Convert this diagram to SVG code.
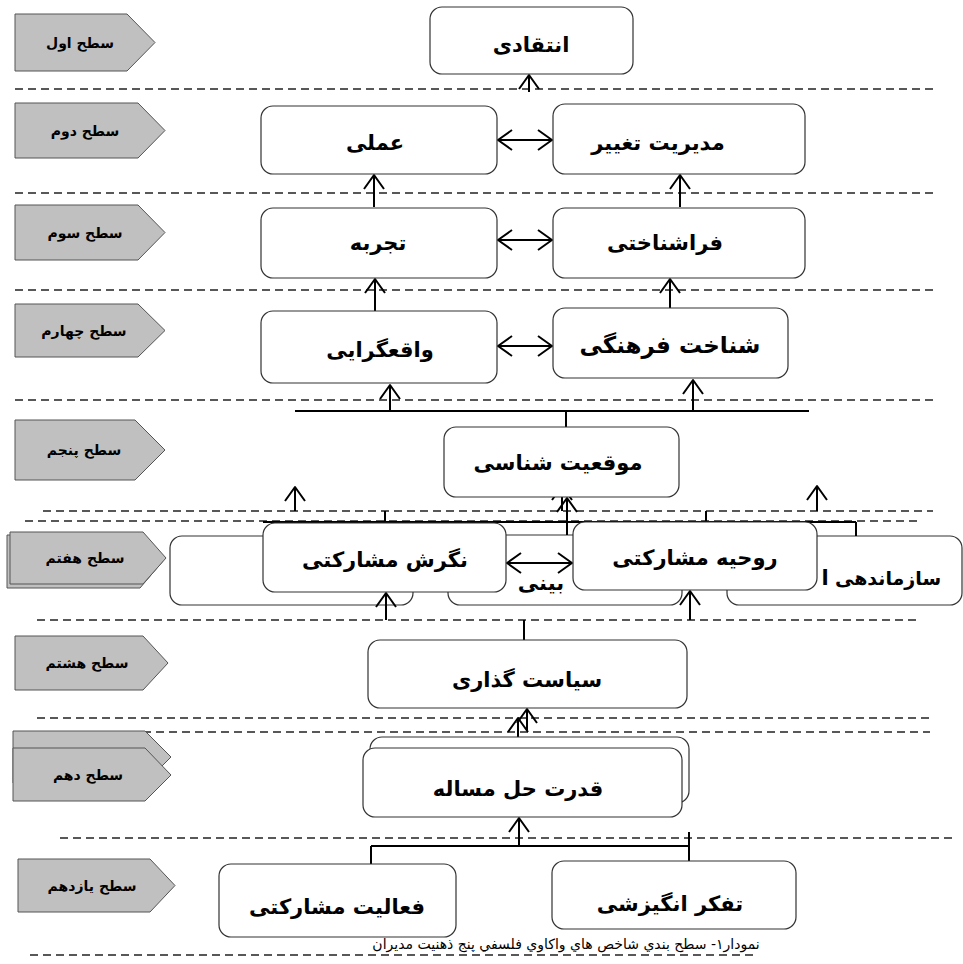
<svg xmlns="http://www.w3.org/2000/svg" width="963" height="964" viewBox="0 0 963 964">
<style>
.dash{stroke:#222;stroke-width:1.3;stroke-dasharray:8 5;fill:none}
.lvl{fill:#c0c0c0;stroke:#555;stroke-width:1}
.lt{font-family:"DejaVu Sans",sans-serif;font-weight:bold;font-size:14px;fill:#000;text-anchor:middle;direction:rtl}
.box{fill:#fff;stroke:#333;stroke-width:1.2}
.nt{font-family:"DejaVu Sans",sans-serif;font-weight:bold;font-size:21px;fill:#000;text-anchor:middle;direction:rtl}
.ln{stroke:#000;stroke-width:2;fill:none}
.cap{font-family:"DejaVu Sans",sans-serif;font-size:14px;fill:#000;text-anchor:middle;direction:rtl}
</style>
<defs>
<marker id="ah" markerUnits="userSpaceOnUse" viewBox="-16 -12 18 24" refX="0" refY="0" markerWidth="18" markerHeight="24" orient="auto-start-reverse" overflow="visible">
<path d="M-14,-10 L0,0 L-14,10" fill="none" stroke="#000" stroke-width="2" stroke-linejoin="round"/>
</marker>
</defs>
<rect width="963" height="964" fill="#fff"/>
<g id="separators">
<line class="dash" x1="15" y1="89" x2="935" y2="89"/>
<line class="dash" x1="15" y1="193" x2="935" y2="193"/>
<line class="dash" x1="15" y1="290" x2="935" y2="290"/>
<line class="dash" x1="15" y1="400" x2="935" y2="400"/>
<line class="dash" x1="43" y1="511" x2="933" y2="511"/>
<line class="dash" x1="25" y1="521" x2="917" y2="521"/>
<line class="dash" x1="37" y1="620" x2="920" y2="620"/>
<line class="dash" x1="37" y1="718" x2="930" y2="718"/>
<line class="dash" x1="39" y1="732" x2="930" y2="732"/>
<line class="dash" x1="60" y1="838" x2="953" y2="838"/>
<line class="dash" x1="30" y1="955" x2="757" y2="955"/>
</g>
<g id="levels">
<g id="level1"><path class="lvl" d="M15,14 H127 L155,42.5 L127,71 H15 Z"/><text class="lt" x="80" y="48">سطح اول</text></g>
<g id="level2"><path class="lvl" d="M15,103 H138 L165,130.5 L138,158 H15 Z"/><text class="lt" x="85" y="136">سطح دوم</text></g>
<g id="level3"><path class="lvl" d="M15,205 H138 L165,232.5 L138,260 H15 Z"/><text class="lt" x="85" y="238">سطح سوم</text></g>
<g id="level4"><path class="lvl" d="M15,304 H138 L165,330.5 L138,357 H15 Z"/><text class="lt" x="84" y="336">سطح چهارم</text></g>
<g id="level5"><path class="lvl" d="M15,420 H135 L165,450 L135,480 H15 Z"/><text class="lt" x="84" y="455">سطح پنجم</text></g>
<g id="level7"><path class="lvl" d="M7,535 H140 L163,561 L140,588 H7 Z"/><path class="lvl" d="M10,532 H143 L166,558 L143,584 H10 Z"/><text class="lt" x="85" y="563">سطح هفتم</text></g>
<g id="level8"><path class="lvl" d="M15,636 H143 L168,663 L143,690 H15 Z"/><text class="lt" x="87" y="668">سطح هشتم</text></g>
<g id="level10"><path class="lvl" d="M13,731 H145 L171,757 L145,783 H13 Z"/><path class="lvl" d="M13,748 H145 L171,775 L145,801 H13 Z"/><text class="lt" x="88" y="780">سطح دهم</text></g>
<g id="level11"><path class="lvl" d="M18,859 H150 L175,885.5 L150,912 H18 Z"/><text class="lt" x="92" y="891">سطح یازدهم</text></g>
</g>
<g id="row6">
<g id="n6a"><rect class="box" x="170" y="536" width="243" height="69" rx="12"/></g>
<g id="n6b"><rect class="box" x="448" y="535" width="234" height="70" rx="12"/><text class="nt" x="541" y="590">بینی</text></g>
<g id="n6c"><rect class="box" x="727" y="536" width="235" height="69" rx="12"/><text class="nt" x="888" y="585" style="font-size:19px">سازماندهی</text><text class="nt" x="825" y="585">ا</text></g>
</g>
<g id="connectors">
<line class="ln" x1="529" y1="92" x2="529" y2="75" marker-end="url(#ah)"/>
<line class="ln" x1="374" y1="207" x2="374" y2="175" marker-end="url(#ah)"/>
<line class="ln" x1="680" y1="207" x2="680" y2="175" marker-end="url(#ah)"/>
<line class="ln" x1="375" y1="311" x2="375" y2="279" marker-end="url(#ah)"/>
<line class="ln" x1="670" y1="308" x2="670" y2="279" marker-end="url(#ah)"/>
<line class="ln" x1="498" y1="140" x2="552" y2="140" marker-start="url(#ah)" marker-end="url(#ah)"/>
<line class="ln" x1="498" y1="240" x2="552" y2="240" marker-start="url(#ah)" marker-end="url(#ah)"/>
<line class="ln" x1="498" y1="346" x2="552" y2="346" marker-start="url(#ah)" marker-end="url(#ah)"/>
<line class="ln" x1="295" y1="411" x2="809" y2="411"/>
<line class="ln" x1="566" y1="411" x2="566" y2="427"/>
<line class="ln" x1="390" y1="411" x2="390" y2="385" marker-end="url(#ah)"/>
<line class="ln" x1="693" y1="411" x2="693" y2="380" marker-end="url(#ah)"/>
<line class="ln" x1="295" y1="511" x2="295" y2="487" marker-end="url(#ah)"/>
<line class="ln" x1="562" y1="511" x2="562" y2="486" marker-end="url(#ah)"/>
<line class="ln" x1="817" y1="511" x2="817" y2="486" marker-end="url(#ah)"/>
<line class="ln" x1="567" y1="535" x2="567" y2="498" marker-end="url(#ah)"/>
<line class="ln" x1="263" y1="522" x2="856" y2="522"/>
<line class="ln" x1="385" y1="511" x2="385" y2="522"/>
<line class="ln" x1="706" y1="511" x2="706" y2="522"/>
<line class="ln" x1="856" y1="522" x2="856" y2="536"/>
<line class="ln" x1="507" y1="563" x2="572" y2="563" marker-start="url(#ah)" marker-end="url(#ah)"/>
<line class="ln" x1="386" y1="620" x2="386" y2="593" marker-end="url(#ah)"/>
<line class="ln" x1="690" y1="620" x2="690" y2="591" marker-end="url(#ah)"/>
<line class="ln" x1="524" y1="620" x2="524" y2="640"/>
<line class="ln" x1="518" y1="748" x2="518" y2="718" marker-end="url(#ah)"/>
<line class="ln" x1="527" y1="730" x2="527" y2="709" marker-end="url(#ah)"/>
<line class="ln" x1="519" y1="846" x2="519" y2="818" marker-end="url(#ah)"/>
<line class="ln" x1="371" y1="846" x2="689" y2="846"/>
<line class="ln" x1="371" y1="846" x2="371" y2="864"/>
<line class="ln" x1="689" y1="832" x2="689" y2="861"/>
</g>
<g id="n1"><rect class="box" x="430" y="7" width="203" height="67" rx="12"/><text class="nt" x="531" y="52">انتقادی</text></g>
<g id="n2a"><rect class="box" x="261" y="106" width="236" height="68" rx="12"/><text class="nt" x="375" y="150">عملی</text></g>
<g id="n2b"><rect class="box" x="553" y="104" width="252" height="70" rx="12"/><text class="nt" x="658" y="150">مدیریت تغییر</text></g>
<g id="n3a"><rect class="box" x="261" y="208" width="236" height="70" rx="12"/><text class="nt" x="378" y="250">تجربه</text></g>
<g id="n3b"><rect class="box" x="553" y="208" width="252" height="70" rx="12"/><text class="nt" x="665" y="250">فراشناختی</text></g>
<g id="n4a"><rect class="box" x="261" y="311" width="236" height="72" rx="12"/><text class="nt" x="380" y="357">واقعگرایی</text></g>
<g id="n4b"><rect class="box" x="553" y="308" width="235" height="70" rx="12"/><text class="nt" x="670" y="353" style="font-size:23px">شناخت فرهنگی</text></g>
<g id="n5"><rect class="box" x="444" y="427" width="235" height="70" rx="12"/><text class="nt" x="558" y="470">موقعیت شناسی</text></g>
<g id="n7a"><rect class="box" x="263" y="523" width="243" height="69" rx="12"/><text class="nt" x="385" y="567">نگرش مشارکتی</text></g>
<g id="n7b"><rect class="box" x="573" y="522" width="244" height="68" rx="12"/><text class="nt" x="695" y="565">روحیه مشارکتی</text></g>
<g id="n8"><rect class="box" x="368" y="640" width="319" height="68" rx="12"/><text class="nt" x="527" y="687">سیاست گذاری</text></g>
<g id="n10"><rect class="box" x="370" y="737" width="319" height="66" rx="12"/><rect class="box" x="363" y="748" width="319" height="69" rx="12"/><text class="nt" x="518" y="796">قدرت حل مساله</text></g>
<g id="n11a"><rect class="box" x="219" y="864" width="237" height="73" rx="12"/><text class="nt" x="337" y="914">فعالیت مشارکتی</text></g>
<g id="n11b"><rect class="box" x="552" y="861" width="244" height="68" rx="12"/><text class="nt" x="670" y="911">تفکر انگیزشی</text></g>
<text class="cap" x="566" y="949">نمودار۱- سطح بندي شاخص هاي واكاوي فلسفي پنج ذهنيت مديران</text>
</svg>
